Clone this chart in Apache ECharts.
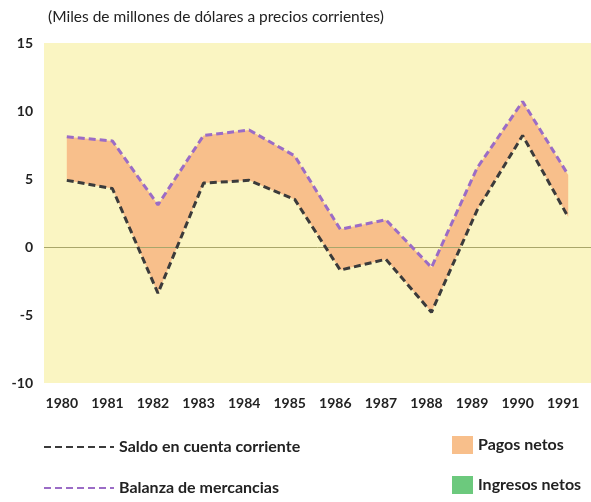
<!DOCTYPE html>
<html>
<head>
<meta charset="utf-8">
<script src="https://cdn.jsdelivr.net/npm/echarts@6/dist/echarts.min.js"></script>
<style>
  html, body { margin: 0; padding: 0; background: #fff; }
  #chart { width: 591px; height: 502px; }
</style>
</head>
<body>
<div id="chart"></div>
<script>
const years = ['1980', '1981', '1982', '1983', '1984', '1985', '1986', '1987', '1988', '1989', '1990', '1991']
// Saldo en cuenta corriente
const saldo = [4.9, 4.3, -3.4, 4.7, 4.9, 3.5, -1.7, -0.9, -4.8, 2.7, 8.2, 2.2]
// Balanza de mercancias
const balanza = [8.1, 7.8, 3.1, 8.2, 8.6, 6.7, 1.3, 2.0, -1.5, 5.8, 10.7, 5.3]
const yTicks = [-10, -5, 0, 5, 10, 15]

const chart = echarts.init(document.getElementById('chart'))

// band between the two lines = pagos netos
const pagos = balanza.map((v, i) => +(v - saldo[i]).toFixed(2))

const font = 'Lato, "Open Sans", sans-serif'

const option = {
  animation: false,
  title: {
    text: '(Miles de millones de dólares a precios corrientes)',
    left: 43,
    top: 4,
    textStyle: { fontFamily: font, fontSize: 15.5, fontWeight: 'normal', color: '#222' }
  },
  grid: {
    left: 44,
    width: 551,
    top: 43,
    bottom: 119,
    show: true,
    borderWidth: 0,
    backgroundColor: '#faf5c2'
  },
  legend: [
    {
      orient: 'vertical',
      left: 43,
      top: 439,
      padding: 0,
      itemWidth: 70,
      itemHeight: 14,
      itemGap: 25,
      itemStyle: { opacity: 0 },
      textStyle: { fontFamily: font, fontSize: 16, fontWeight: 'bold', color: '#222' },
      data: ['Saldo en cuenta corriente', 'Balanza de mercancias']
    },
    {
      orient: 'vertical',
      left: 452,
      top: 436,
      padding: 0,
      itemWidth: 21,
      itemHeight: 18,
      itemGap: 22,
      textStyle: { fontFamily: font, fontSize: 16, fontWeight: 'bold', color: '#222' },
      data: [
        { name: 'Pagos netos', icon: 'rect' },
        { name: 'Ingresos netos', icon: 'rect' }
      ]
    }
  ],
  xAxis: {
    type: 'category',
    boundaryGap: true,
    data: years,
    axisLine: { show: false },
    axisTick: { show: false },
    axisLabel: {
      margin: 13,
      padding: [0, 10, 0, 0],
      fontFamily: font,
      fontSize: 14,
      fontWeight: 'bold',
      color: '#222'
    }
  },
  yAxis: {
    type: 'value',
    min: yTicks[0],
    max: yTicks[yTicks.length - 1],
    interval: 5,
    axisLine: { show: false },
    axisTick: { show: false },
    splitLine: { show: false },
    axisLabel: {
      margin: 11,
      fontFamily: font,
      fontSize: 14,
      fontWeight: 'bold',
      color: '#222'
    }
  },
  series: [
    {
      name: 'base',
      type: 'line',
      stack: 'band',
      stackStrategy: 'all',
      symbol: 'none',
      lineStyle: { opacity: 0 },
      data: saldo,
      markLine: {
        silent: true,
        symbol: 'none',
        label: { show: false },
        lineStyle: { color: '#a9a66a', width: 1, type: 'solid' },
        data: [{ yAxis: 0 }]
      }
    },
    {
      name: 'Pagos netos',
      type: 'line',
      stack: 'band',
      stackStrategy: 'all',
      symbol: 'none',
      color: '#f8bf8b',
      lineStyle: { width: 0 },
      areaStyle: { color: '#f8bf8b', opacity: 1 },
      data: pagos
    },
    {
      name: 'Ingresos netos',
      type: 'line',
      symbol: 'none',
      color: '#6cc97d',
      lineStyle: { width: 0 },
      data: []
    },
    {
      name: 'Saldo en cuenta corriente',
      type: 'line',
      symbol: 'none',
      color: '#3b3b3b',
      lineStyle: { color: '#3b3b3b', width: 3, type: [7, 4] },
      z: 5,
      data: saldo
    },
    {
      name: 'Balanza de mercancias',
      type: 'line',
      symbol: 'none',
      color: '#9b6cc6',
      lineStyle: { color: '#9b6cc6', width: 3, type: [7, 4] },
      z: 5,
      data: balanza
    }
  ]
}

option && chart.setOption(option)
</script>
</body>
</html>
